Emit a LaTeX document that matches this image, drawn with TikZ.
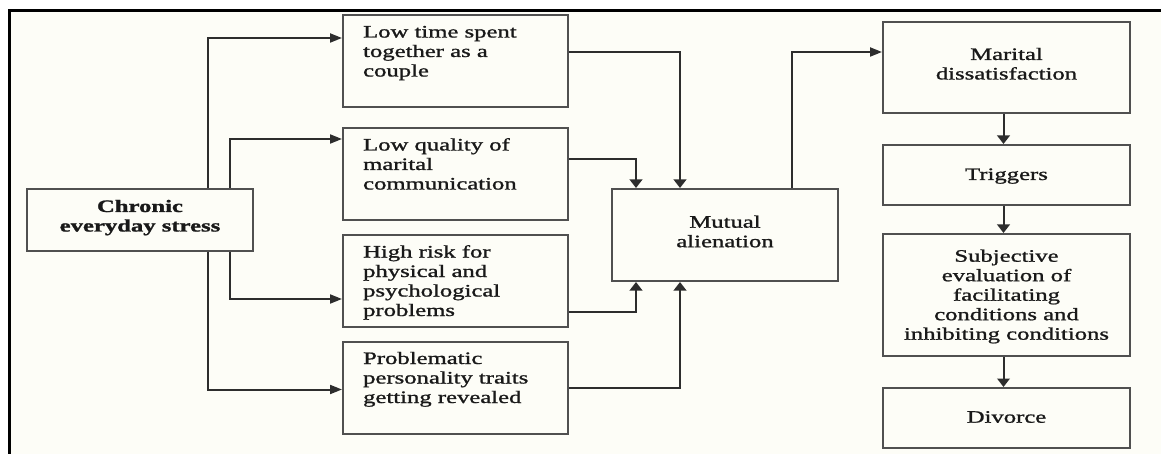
\documentclass[tikz,border=0pt]{standalone}
\usepackage{fontspec}
\setmainfont{Liberation Serif}[UprightFeatures={FakeBold=1.0},BoldFeatures={FakeBold=1.2}]
\usetikzlibrary{arrows.meta}
\definecolor{cream}{RGB}{253,253,247}
\definecolor{boxgray}{RGB}{80,80,80}
\definecolor{linegray}{RGB}{45,45,45}
\definecolor{ink}{RGB}{25,25,25}
% #1 height, #2 width (before horizontal stretch), #3 alignment, #4 first baseline, #5 text
\newcommand\bxt[5]{\scalebox{1.41}[1]{\parbox[c][#1pt][t]{#2pt}{#3\rule{0pt}{#4pt}\ignorespaces#5}}}
\tikzset{
  box/.style={draw=boxgray, line width=2pt, fill=cream, inner sep=0pt, text=ink,
    font=\fontsize{17.5}{19.5}\selectfont},
  conn/.style={draw=linegray, line width=2pt},
  harr/.style={conn, -{Triangle[length=12pt,width=9pt]}},
  varr/.style={conn, -{Triangle[length=8.5pt,width=12.5pt]}},
}
\begin{document}
\begin{tikzpicture}[x=1pt,y=-1pt]
\useasboundingbox (0,0) rectangle (1161,454);
\fill[white] (0,0) rectangle (1161,454);
\fill[cream] (9.5,11) rectangle (1161,454);
\draw[black, line width=3pt] (9.5,454) -- (9.5,11) -- (1161,11);

% nodes
\node[box, minimum width=226pt, minimum height=62pt, font=\fontsize{17.5}{19.5}\selectfont\bfseries] (c) at (140,220)
  {\bxt{62}{156}{\centering}{23}{Chronic\\everyday stress}};

\node[box, minimum width=225pt, minimum height=92pt] (b1) at (455.5,61)
  {\bxt{92}{131}{\raggedright}{22.5}{Low time spent\\together as a\\couple}};
\node[box, minimum width=225pt, minimum height=92pt] (b2) at (455.5,174)
  {\bxt{92}{131}{\raggedright}{22.5}{Low quality of\\marital\\communication}};
\node[box, minimum width=225pt, minimum height=92pt] (b3) at (455.5,281)
  {\bxt{92}{131}{\raggedright}{22.5}{High risk for\\physical and\\psychological\\problems}};
\node[box, minimum width=225pt, minimum height=92pt] (b4) at (455.5,387.5)
  {\bxt{92}{131}{\raggedright}{22.5}{Problematic\\personality traits\\getting revealed}};

\node[box, minimum width=226pt, minimum height=92pt] (m) at (725,235)
  {\bxt{92}{156}{\centering}{38.7}{Mutual\\alienation}};

\node[box, minimum width=247pt, minimum height=91pt] (md) at (1006.5,67.5)
  {\bxt{91}{170}{\centering}{38}{Marital\\dissatisfaction}};
\node[box, minimum width=247pt, minimum height=60pt] (tr) at (1006.5,175)
  {\bxt{60}{170}{\centering}{35}{Triggers}};
\node[box, minimum width=247pt, minimum height=122pt] (sj) at (1006.5,295)
  {\bxt{122}{170}{\centering}{27.7}{Subjective\\evaluation of\\facilitating\\conditions and\\inhibiting conditions}};
\node[box, minimum width=247pt, minimum height=60pt] (dv) at (1006.5,418)
  {\bxt{60}{170}{\centering}{34.7}{Divorce}};

% connectors
\draw[harr] ([xshift=68pt]c.north) |- ([yshift=23pt]b1.west);
\draw[harr] ([xshift=90pt]c.north) |- ([yshift=35pt]b2.west);
\draw[harr] ([xshift=90pt]c.south) |- ([yshift=-18pt]b3.west);
\draw[harr] ([xshift=68pt]c.south) |- ([yshift=-2pt]b4.west);

\draw[varr] ([yshift=9pt]b1.east) -| ([xshift=-45pt]m.north);
\draw[varr] ([yshift=15pt]b2.east) -| ([xshift=-89pt]m.north);
\draw[varr] ([yshift=-31pt]b3.east) -| ([xshift=-89pt]m.south);
\draw[varr] (b4.east) -| ([xshift=-45pt]m.south);

\draw[harr] ([xshift=67pt]m.north) |- ([yshift=15.5pt]md.west);

\draw[varr] ([xshift=-3pt]md.south) -- ([xshift=-3pt]tr.north);
\draw[varr] ([xshift=-3pt]tr.south) -- ([xshift=-3pt]sj.north);
\draw[varr] ([xshift=-3pt]sj.south) -- ([xshift=-3pt]dv.north);
\end{tikzpicture}
\end{document}
